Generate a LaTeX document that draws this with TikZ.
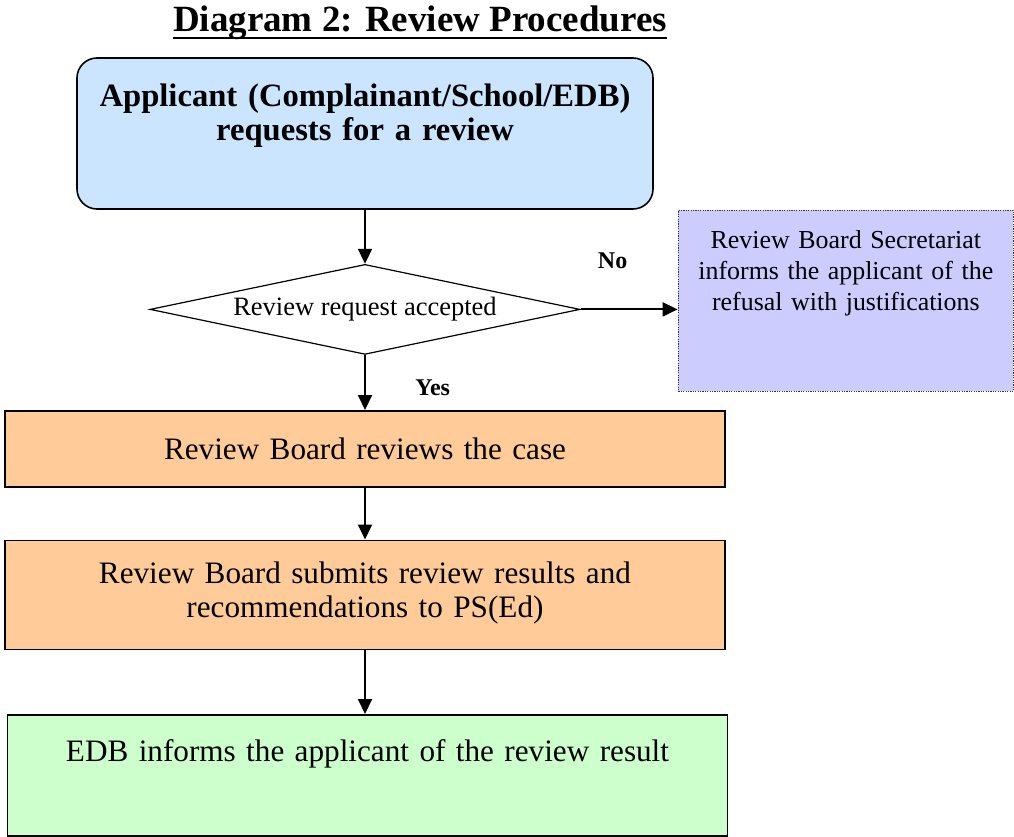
\documentclass[tikz,border=0pt]{standalone}
\usepackage{fontspec}
\setmainfont{Liberation Serif}
\usetikzlibrary{shapes.geometric,arrows.meta,positioning}
\definecolor{askblue}{RGB}{204,229,255}
\definecolor{refusal}{RGB}{204,204,255}
\definecolor{boardorange}{RGB}{255,204,153}
\definecolor{resultgreen}{RGB}{204,255,204}
\newcommand{\padbelow}[1]{\rule[-#1]{0pt}{#1}}

\begin{document}
\begin{tikzpicture}[
    x=1pt, y=1pt,
    node distance=54pt,
    every node/.style={font=\fontsize{31.2}{34}\selectfont},
    heading/.style={
      inner sep=0pt, font=\bfseries\fontsize{37}{40}\selectfont
    },
    startbox/.style={
      rectangle, draw, line width=1.6pt, rounded corners=20pt,
      minimum width=576pt, minimum height=151pt, text width=560pt,
      align=center, inner sep=0pt, fill=askblue,
      font=\bfseries\fontsize{32.6}{34}\selectfont
    },
    decision/.style={
      diamond, draw, line width=1.2pt, aspect=4.78,
      minimum width=430pt, minimum height=90pt,
      inner sep=0pt, fill=white, font=\fontsize{26.5}{31}\selectfont
    },
    refuseblock/.style={
      rectangle, draw=black!80, line width=1.5pt,
      dash pattern=on 1.2pt off 1.2pt,
      minimum width=335pt, minimum height=181pt, text width=320pt,
      align=center, inner sep=0pt, fill=refusal,
      font=\fontsize{25.9}{31}\selectfont
    },
    block/.style={
      rectangle, draw, line width=1.5pt,
      minimum width=720pt, text width=700pt,
      align=center, inner sep=0pt, fill=boardorange
    },
    resultblock/.style={block, fill=resultgreen},
    arr/.style={-{Triangle[length=15pt,width=14pt]}, line width=2pt},
    answer/.style={font=\bfseries\fontsize{24}{26}\selectfont}
  ]

  \useasboundingbox (0,0) rectangle (1014,-837);

  % Main flow
  \node[startbox] (applicant) at (365,-133.5)
    {Applicant (Complainant/School/EDB)\\requests for a review\padbelow{42pt}};
  \node[heading, above=17pt of applicant, xshift=55pt] (title)
    {Diagram 2: Review Procedures};
  \node[decision, below=of applicant] (accepted) {Review request accepted};
  \node[block, below=55pt of accepted, minimum height=76pt] (reviews)
    {Review Board reviews the case};
  \node[block, below=52pt of reviews, minimum height=109pt] (submits)
    {Review Board submits review results and\\recommendations to PS(Ed)\padbelow{11pt}};
  \node[resultblock, below=64pt of submits, xshift=2.5pt, minimum height=121pt] (informs)
    {EDB informs the applicant of the review result\padbelow{49pt}};

  % Refusal branch
  \node[refuseblock, right=97pt of accepted, yshift=8.5pt] (refusal)
    {Review Board Secretariat\\informs the applicant of the\\refusal with justifications\padbelow{61pt}};

  % Title underline
  \draw[line width=2.5pt] ([yshift=-6pt]title.base west) -- ([yshift=-6pt]title.base east);

  % Arrows
  \draw[arr] (applicant) -- (accepted);
  \draw[arr] (accepted.east) -- (accepted.east -| refusal.west)
    node[answer, above=36pt, pos=0.33] {No};
  \draw[arr] (accepted) -- node[answer, right=46pt, pos=0.6] {Yes} (reviews);
  \draw[arr] (reviews) -- (submits);
  \draw[arr] (submits) -- (submits.south |- informs.north);

\end{tikzpicture}
\end{document}
